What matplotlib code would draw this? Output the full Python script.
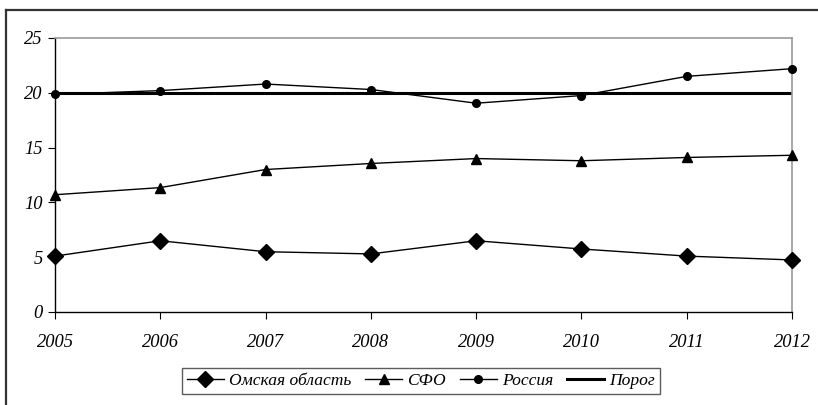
import matplotlib
matplotlib.use("Agg")
import matplotlib.pyplot as plt
from matplotlib.lines import Line2D

# data
years = [2005, 2006, 2007, 2008, 2009, 2010, 2011, 2012]
omsk = [5.1, 6.5, 5.5, 5.3, 6.5, 5.75, 5.1, 4.75]
sfo = [10.7, 11.35, 13.0, 13.55, 14.0, 13.8, 14.1, 14.3]
russia = [19.85, 20.2, 20.8, 20.3, 19.05, 19.75, 21.5, 22.2]
threshold = [20] * len(years)
y_ticks = [0, 5, 10, 15, 20, 25]

plt.rcParams["font.family"] = ["Liberation Serif", "DejaVu Serif"]
plt.rcParams["font.style"] = "italic"

W, H = 818, 405
fig = plt.figure(figsize=(W / 100, H / 100), dpi=100)

# plot area in pixels: left 55, right 792, top 38, bottom 312
ax = fig.add_axes([55 / W, 1 - 312 / H, (792 - 55) / W, (312 - 38) / H])

ax.plot(years, omsk, color="black", lw=1.0, marker="D", ms=8,
        label="Омская область", clip_on=False, zorder=3)
ax.plot(years, sfo, color="black", lw=1.0, marker="^", ms=7,
        label="СФО", clip_on=False, zorder=3)
ax.plot(years, russia, color="black", lw=1.0, marker="o", ms=5.5,
        label="Россия", clip_on=False, zorder=3)
ax.plot(years, threshold, color="black", lw=2.2, label="Порог", zorder=2)

ax.set_xlim(years[0], years[-1])
ax.set_ylim(0, 25)
ax.set_xticks(years)
ax.set_yticks(y_ticks)
ax.set_xticklabels([str(y) for y in years], fontsize=13.3, style="italic")
ax.set_yticklabels([str(v) for v in y_ticks], fontsize=13.3, style="italic")
ax.tick_params(axis="x", direction="out", length=5, width=0.8, pad=11)
ax.tick_params(axis="y", direction="out", length=5, width=0.8, pad=4)

for side in ["left", "bottom"]:
    ax.spines[side].set_color("black")
    ax.spines[side].set_linewidth(1.0)
for side in ["top", "right"]:
    ax.spines[side].set_color("#999999")
    ax.spines[side].set_linewidth(1.2)

leg = ax.legend(loc="lower center", bbox_to_anchor=(421 / W, 2 / H),
                bbox_transform=fig.transFigure, ncol=4, frameon=True,
                fancybox=False, edgecolor="#333333",
                handlelength=2.1, handletextpad=0.3, columnspacing=0.8,
                borderpad=0.3, prop={"style": "italic", "size": 12.6})
leg.get_frame().set_linewidth(1.0)

# outer chart frame (only top and left visible)
fig.add_artist(Line2D([6 / W, 1.0], [1 - 10 / H, 1 - 10 / H],
                      transform=fig.transFigure, color="#333333", lw=1.6))
fig.add_artist(Line2D([6 / W, 6 / W], [0, 1 - 10 / H],
                      transform=fig.transFigure, color="#333333", lw=1.6))

fig.savefig("out.png", dpi=100)
